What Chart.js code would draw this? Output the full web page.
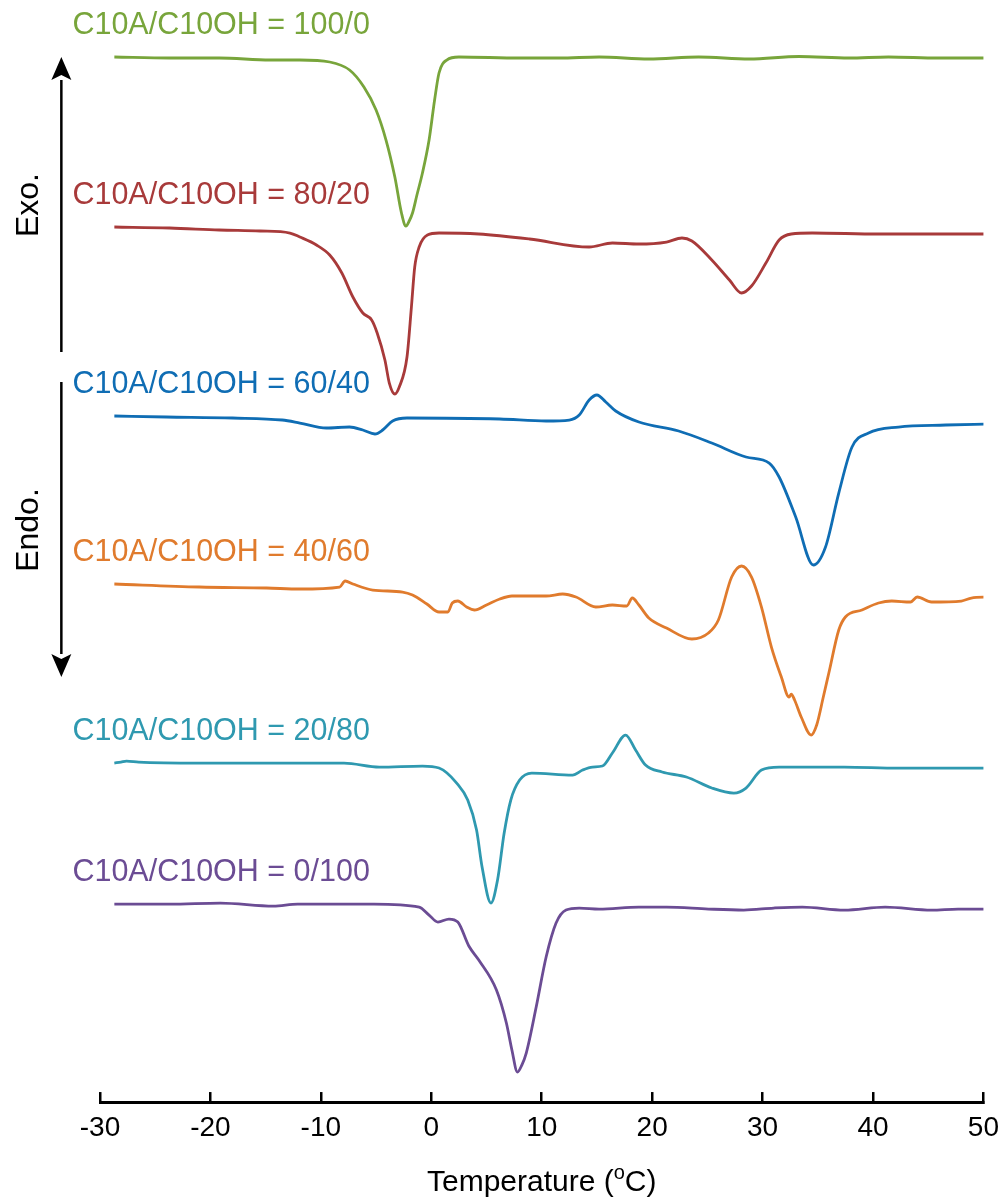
<!DOCTYPE html>
<html>
<head>
<meta charset="utf-8">
<script src="https://cdn.jsdelivr.net/npm/chart.js@4/dist/chart.umd.min.js"></script>
<style>
  body { margin: 0; background: #fff; }
  #wrap { width: 999px; height: 1200px; }
</style>
</head>
<body>
<div id="wrap"><canvas id="dsc" width="999" height="1200"></canvas></div>
<script>
// DSC traces, temperature in degC, heat flow in arbitrary units (offset per sample)
const T_TICKS = [-30, -20, -10, 0, 10, 20, 30, 40, 50];

const t100_0 = [-28.7, -23.7, -19.2, -14.6, -11.9, -9.2, -7.4, -6.1, -5.0, -4.1, -3.3, -2.7, -2.3, -2.0, -1.7, -1.3, -0.8, -0.2, 0.3, 0.7, 1.4, 2.5, 8.0, 11.6, 15.2, 19.7, 24.2, 28.8, 33.3, 37.8, 41.4, 45.9, 50.5];
const h100_0 = [104.5, 104.4, 104.4, 104.2, 104.2, 104.0, 103.2, 101.5, 99.2, 96.2, 92.5, 88.9, 87.6, 88.1, 88.9, 90.7, 92.9, 96.2, 100.2, 102.9, 104.2, 104.5, 104.4, 104.4, 104.5, 104.3, 104.5, 104.3, 104.55, 104.4, 104.5, 104.4, 104.4];

const t80_20 = [-28.7, -23.7, -19.2, -15.5, -12.8, -11.9, -10.4, -9.2, -8.1, -7.1, -6.2, -5.4, -4.9, -4.2, -3.8, -3.3, -2.9, -2.2, -1.8, -1.5, -1.1, -0.35, 0.7, 4.3, 8.9, 14.3, 16.4, 18.8, 21.3, 22.7, 23.6, 25.4, 27.0, 28.1, 29.0, 30.3, 31.5, 32.6, 34.5, 40.5, 45.0, 50.2];
const h80_20 = [87.5, 87.4, 87.2, 87.1, 86.9, 86.5, 85.7, 84.7, 82.9, 80.5, 78.9, 78.2, 76.9, 74.2, 71.9, 70.8, 71.5, 74.5, 79.5, 83.5, 85.5, 86.7, 86.9, 86.8, 86.3, 85.5, 85.9, 85.8, 86.0, 86.4, 86.1, 84.2, 82.2, 80.9, 81.6, 83.9, 86.2, 86.8, 86.9, 86.8, 86.8, 86.8];

const t60_40 = [-28.7, -24.0, -18.0, -13.5, -11.9, -9.5, -7.4, -6.2, -5.1, -4.4, -3.5, -2.2, 6.2, 10.4, 12.5, 13.4, 14.3, 15.0, 15.8, 16.7, 18.8, 22.4, 25.4, 28.5, 30.6, 31.5, 33.0, 34.6, 35.7, 36.9, 38.1, 39.6, 42.3, 46.6, 50.5];
const h60_40 = [68.6, 68.5, 68.4, 68.2, 67.9, 67.4, 67.5, 67.2, 66.8, 67.2, 68.1, 68.4, 68.3, 68.1, 68.2, 68.7, 70.2, 70.7, 70.0, 69.1, 68.0, 67.1, 65.9, 64.5, 63.9, 62.5, 58.5, 53.7, 55.5, 60.9, 65.5, 66.9, 67.5, 67.7, 67.8];

const t40_60 = [-28.7, -21.0, -14.9, -11.9, -8.3, -7.8, -7.1, -5.3, -2.6, -1.7, -0.4, 0.7, 1.5, 1.9, 2.4, 3.2, 3.9, 5.0, 6.2, 7.3, 10.4, 11.9, 13.1, 14.9, 16.4, 17.7, 18.2, 18.8, 19.7, 21.3, 23.6, 25.1, 26.0, 27.2, 28.1, 29.0, 29.9, 30.8, 31.7, 32.4, 32.6, 32.9, 33.5, 34.4, 34.9, 35.5, 36.0, 36.9, 37.5, 39.0, 40.5, 41.7, 43.4, 44.0, 45.3, 48.0, 48.9, 50.5];
const h40_60 = [51.8, 51.5, 51.4, 51.3, 51.5, 52.1, 51.8, 51.2, 51.0, 50.7, 49.8, 49.0, 49.0, 49.9, 50.1, 49.5, 49.2, 49.7, 50.3, 50.6, 50.6, 50.8, 50.5, 49.5, 49.7, 49.6, 50.4, 49.7, 48.4, 47.4, 46.3, 46.9, 48.2, 52.5, 53.6, 52.5, 49.5, 45.5, 42.5, 40.5, 40.8, 40.2, 38.5, 36.7, 37.7, 40.5, 42.9, 47.2, 48.5, 49.2, 49.9, 50.1, 50.0, 50.5, 50.0, 50.1, 50.4, 50.5];

const t20_80 = [-28.7, -28.1, -27.6, -26.5, -21.0, -15.9, -7.9, -4.7, -0.8, 0.7, 2.3, 3.3, 4.1, 4.6, 5.4, 6.0, 6.6, 7.2, 8.0, 9.1, 12.8, 13.7, 14.6, 15.5, 16.4, 17.6, 18.5, 19.4, 20.9, 23.1, 25.4, 27.4, 28.5, 29.9, 31.5, 37.4, 42.3, 50.5];
const h20_80 = [33.9, 34.0, 34.1, 34.0, 33.9, 33.9, 33.9, 33.5, 33.6, 33.4, 31.9, 30.2, 27.2, 23.5, 19.9, 22.2, 26.9, 30.2, 32.2, 32.9, 32.7, 33.2, 33.5, 33.6, 34.9, 36.7, 35.2, 33.7, 33.0, 32.5, 31.4, 30.9, 31.4, 33.2, 33.5, 33.5, 33.4, 33.4];

const t0_100 = [-28.7, -23.7, -19.1, -14.3, -12.1, -5.2, -1.1, -0.2, 0.6, 1.6, 2.4, 3.4, 4.3, 5.9, 6.8, 7.3, 7.8, 8.2, 8.6, 9.5, 10.4, 11.3, 12.2, 13.4, 15.2, 18.8, 21.3, 25.1, 28.3, 31.0, 33.6, 37.4, 41.1, 45.3, 47.7, 50.5];
const h0_100 = [19.8, 19.8, 19.9, 19.6, 19.8, 19.8, 19.5, 18.7, 18.0, 18.3, 18.0, 15.6, 14.2, 11.2, 7.9, 5.2, 3.0, 3.7, 4.9, 9.5, 14.5, 17.9, 19.2, 19.4, 19.3, 19.5, 19.5, 19.3, 19.2, 19.4, 19.5, 19.2, 19.5, 19.2, 19.3, 19.3];

const SAMPLES = ['C10A/C10OH = 100/0', 'C10A/C10OH = 80/20', 'C10A/C10OH = 60/40', 'C10A/C10OH = 40/60', 'C10A/C10OH = 20/80', 'C10A/C10OH = 0/100'];
const COLORS = ['#78a53b', '#a83a3a', '#0f6db4', '#e07b2d', '#2f99b0', '#6b4c94'];
const TEMPS = [t100_0, t80_20, t60_40, t40_60, t20_80, t0_100];
const FLOWS = [h100_0, h80_20, h60_40, h40_60, h20_80, h0_100];

const LABEL_X = -32.5;   // where the sample names start
const LABEL_RISE = 3.1;  // sample name sits above the start of its trace
const ARROW_X = -33.5;
const EXO_ARROW = [75.0, 104.5];
const ENDO_ARROW = [72.0, 42.5];
const SIDE_TEXT_X = -36.4;
const EXO_Y = 89.7;
const ENDO_Y = 57.2;

const FONT = '"Liberation Sans", Arial, Helvetica, sans-serif';

const datasets = SAMPLES.map((name, i) => ({
  label: name,
  data: TEMPS[i].map((t, k) => ({ x: t, y: FLOWS[i][k] })),
  borderColor: COLORS[i],
  borderWidth: 2.8,
  pointRadius: 0,
  fill: false,
  cubicInterpolationMode: 'monotone',
}));

function arrow(ctx, x, y0, y1) {
  const dir = y1 < y0 ? -1 : 1;
  const head = 23;
  ctx.beginPath();
  ctx.moveTo(x, y0);
  ctx.lineTo(x, y1 - dir * head);
  ctx.stroke();
  ctx.beginPath();
  ctx.moveTo(x, y1);
  ctx.lineTo(x - 10, y1 - dir * head);
  ctx.lineTo(x, y1 - dir * (head - 5));
  ctx.lineTo(x + 10, y1 - dir * head);
  ctx.closePath();
  ctx.fill();
}

const overlay = {
  id: 'overlay',
  afterDraw(chart) {
    const ctx = chart.ctx;
    const x = chart.scales.x;
    const y = chart.scales.y;
    ctx.save();

    // sample names
    ctx.font = '30.5px ' + FONT;
    ctx.textAlign = 'left';
    ctx.textBaseline = 'middle';
    chart.data.datasets.forEach((ds) => {
      ctx.fillStyle = ds.borderColor;
      ctx.fillText(ds.label, x.getPixelForValue(LABEL_X), y.getPixelForValue(ds.data[0].y + LABEL_RISE));
    });

    // exo / endo arrows
    ctx.strokeStyle = '#000';
    ctx.fillStyle = '#000';
    ctx.lineWidth = 2.5;
    const ax = x.getPixelForValue(ARROW_X);
    arrow(ctx, ax, y.getPixelForValue(EXO_ARROW[0]), y.getPixelForValue(EXO_ARROW[1]));
    arrow(ctx, ax, y.getPixelForValue(ENDO_ARROW[0]), y.getPixelForValue(ENDO_ARROW[1]));

    ctx.font = '32px ' + FONT;
    ctx.textAlign = 'center';
    ctx.textBaseline = 'middle';
    const sx = x.getPixelForValue(SIDE_TEXT_X);
    [['Exo.', EXO_Y], ['Endo.', ENDO_Y]].forEach(([txt, v]) => {
      ctx.save();
      ctx.translate(sx, y.getPixelForValue(v));
      ctx.rotate(-Math.PI / 2);
      ctx.fillText(txt, 0, 0);
      ctx.restore();
    });

    // axis title with superscript o
    const big = '30px ' + FONT;
    const small = '20px ' + FONT;
    ctx.textAlign = 'left';
    ctx.textBaseline = 'alphabetic';
    ctx.font = big;
    const w1 = ctx.measureText('Temperature (').width;
    const w3 = ctx.measureText('C)').width;
    ctx.font = small;
    const w2 = ctx.measureText('o').width;
    const cx = (chart.chartArea.left + chart.chartArea.right) / 2;
    const base = chart.height - 9;
    let px = cx - (w1 + w2 + w3) / 2;
    ctx.font = big;
    ctx.fillText('Temperature (', px, base);
    px += w1;
    ctx.font = small;
    ctx.fillText('o', px, base - 12);
    px += w2;
    ctx.font = big;
    ctx.fillText('C)', px, base);

    ctx.restore();
  }
};

new Chart(document.getElementById('dsc'), {
  type: 'line',
  data: { datasets },
  options: {
    responsive: false,
    animation: false,
    devicePixelRatio: 1,
    layout: { padding: { left: 100, right: 14, top: 0, bottom: 36 } },
    plugins: {
      legend: { display: false },
      tooltip: { enabled: false },
    },
    scales: {
      x: {
        type: 'linear',
        min: -30,
        max: 50,
        afterBuildTicks: (axis) => { axis.ticks = T_TICKS.map((v) => ({ value: v })); },
        border: { display: true, color: '#000', width: 3 },
        grid: { display: true, drawOnChartArea: false, drawTicks: true, tickLength: -10, color: '#000', lineWidth: 2.5 },
        ticks: { color: '#000', padding: 0, font: { family: FONT, size: 28, lineHeight: 2.57 } },
      },
      y: {
        type: 'linear',
        display: false,
        min: 0,
        max: 110.2,
      },
    },
  },
  plugins: [overlay],
});
</script>
</body>
</html>
